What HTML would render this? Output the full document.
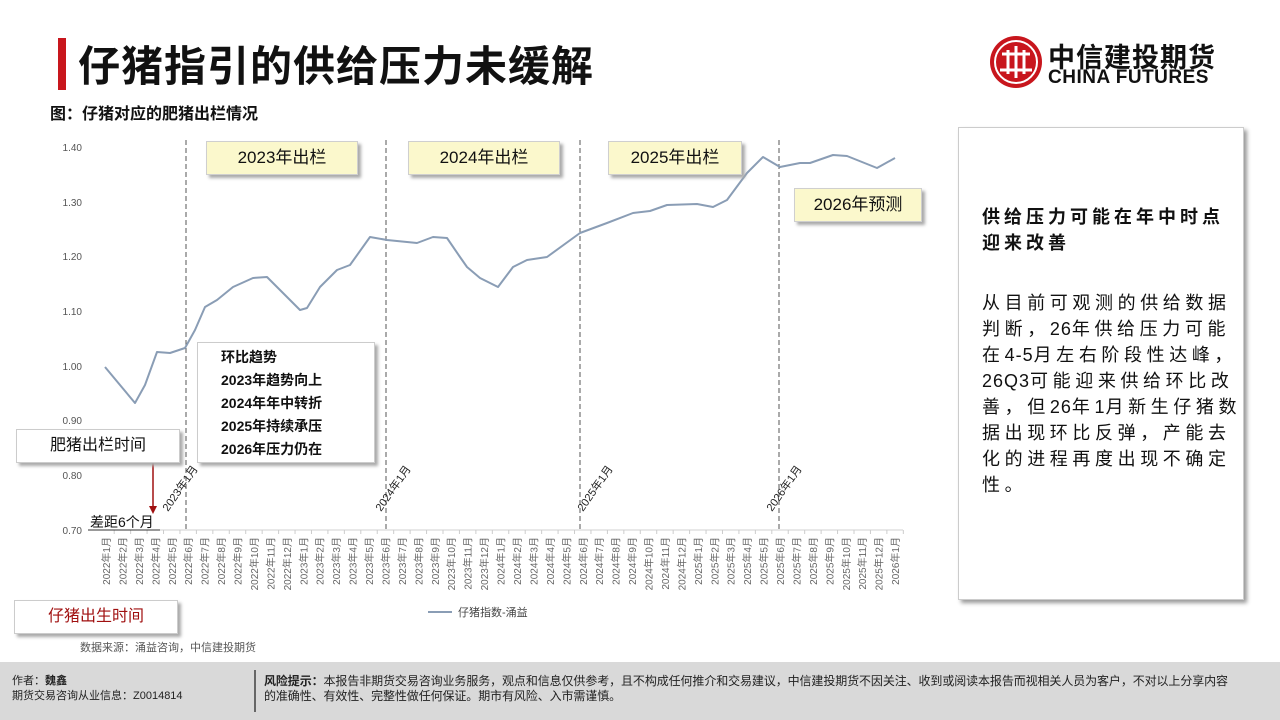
<!DOCTYPE html>
<html><head><meta charset="utf-8"><style>
body{margin:0;width:1280px;height:720px;position:relative;background:#fff;font-family:"Liberation Sans","Noto Sans CJK SC",sans-serif;overflow:hidden}
.a{position:absolute}
.ybox{position:absolute;background:#fbf8cc;border:1px solid #cfcfcf;box-shadow:3px 3px 3px #aaa;font-size:17px;color:#111;text-align:center}
</style></head><body>
<div class="a" style="left:58px;top:38px;width:8px;height:52px;background:#c8161d"></div>
<div class="a" style="left:78px;top:33px;font-size:42px;font-weight:bold;color:#111;letter-spacing:1px">仔猪指引的供给压力未缓解</div>
<div class="a" style="left:50px;top:100px;font-size:16px;font-weight:bold;color:#111">图：仔猪对应的肥猪出栏情况</div>
<svg class="a" style="left:988px;top:34px" width="56" height="56" viewBox="0 0 56 56"><circle cx="28" cy="28" r="26" fill="#c8161d"/><circle cx="28" cy="28" r="21" fill="none" stroke="#fff" stroke-width="2"/><path d="M14 20h28M12 36h32M20 16v24M28 12v32M36 16v24" stroke="#fff" stroke-width="3" fill="none"/></svg>
<div class="a" style="left:1048px;top:36px;font-size:27px;font-weight:bold;color:#111;letter-spacing:1px">中信建投期货</div>
<div class="a" style="left:1048px;top:67px;font-size:19px;font-weight:bold;color:#111;letter-spacing:0.5px">CHINA FUTURES</div>

<svg class="a" style="left:0;top:0" width="950" height="660">
<g font-size="10" fill="#555" text-anchor="end">
<text x="82" y="151">1.40</text><text x="82" y="206">1.30</text><text x="82" y="260">1.20</text><text x="82" y="315">1.10</text><text x="82" y="370">1.00</text><text x="82" y="424">0.90</text><text x="82" y="479">0.80</text><text x="82" y="534">0.70</text>
</g>
<line x1="90" y1="530" x2="903" y2="530" stroke="#d0d0d0"/>
<g stroke="#555" stroke-dasharray="5,3"><line x1="186" y1="140" x2="186" y2="530"/><line x1="386" y1="140" x2="386" y2="530"/><line x1="580" y1="140" x2="580" y2="530"/><line x1="779" y1="140" x2="779" y2="530"/></g>
<g id="xl" font-size="10" fill="#666" text-anchor="end"></g>
<polyline fill="none" stroke="#8a9db5" stroke-width="2" stroke-linejoin="round" points="105,367 120,385 135,403 145,385 157,352 170,353 185,348 195,330 205,307 217,300 233,287 253,278 267,277 285,295 300,310 307,308 320,287 337,270 350,265 370,237 387,240 417,243 433,237 447,238 460,257 467,267 480,278 498,287 513,267 527,260 547,257 580,233 607,223 633,213 650,211 667,205 697,204 713,207 727,200 747,173 763,157 780,167 800,163 810,163 833,155 847,156 877,168 895,158"/>
<g font-size="11" fill="#222"><text transform="translate(168,512) rotate(-55)">2023年1月</text><text transform="translate(381,512) rotate(-55)">2024年1月</text><text transform="translate(583,512) rotate(-55)">2025年1月</text><text transform="translate(772,512) rotate(-55)">2026年1月</text></g>
<line x1="153" y1="440" x2="153" y2="510" stroke="#a01010" stroke-width="1.5"/><path d="M149,444 L153,436 L157,444Z M149,506 L153,514 L157,506Z" fill="#a01010"/>
<line x1="88" y1="530" x2="160" y2="530" stroke="#333"/>
<line x1="428" y1="612" x2="452" y2="612" stroke="#8a9db5" stroke-width="2"/>
<text x="458" y="616" font-size="11" fill="#444">仔猪指数-涌益</text>
<text x="80" y="651" font-size="11" fill="#555">数据来源：涌益咨询，中信建投期货</text>
</svg>
<div class="a" style="left:90px;top:512px;font-size:14px;color:#111">差距6个月</div>
<div class="ybox" style="left:206px;top:141px;width:150px;height:32px;line-height:32px">2023年出栏</div>
<div class="ybox" style="left:408px;top:141px;width:150px;height:32px;line-height:32px">2024年出栏</div>
<div class="ybox" style="left:608px;top:141px;width:132px;height:32px;line-height:32px">2025年出栏</div>
<div class="ybox" style="left:794px;top:188px;width:126px;height:32px;line-height:32px">2026年预测</div>
<div class="a" style="left:197px;top:342px;width:178px;height:121px;border:1px solid #ccc;box-shadow:3px 3px 3px #aaa;background:#fff;font-size:14px;font-weight:bold;line-height:23px;padding-top:3px;box-sizing:border-box;padding-left:23px;color:#111">环比趋势<br>2023年趋势向上<br>2024年年中转折<br>2025年持续承压<br>2026年压力仍在</div>
<div class="a" style="left:16px;top:429px;width:162px;height:32px;line-height:32px;border:1px solid #ccc;box-shadow:3px 3px 3px #aaa;background:#fff;font-size:16px;text-align:center;color:#111">肥猪出栏时间</div>
<div class="a" style="left:14px;top:600px;width:162px;height:32px;line-height:32px;border:1px solid #ccc;box-shadow:3px 3px 3px #aaa;background:#fff;font-size:16px;text-align:center;color:#a01010">仔猪出生时间</div>

<div class="a" style="left:958px;top:127px;width:284px;height:471px;border:1px solid #ccc;box-shadow:3px 3px 4px #999;background:#fff"></div>
<div class="a" style="left:982px;top:204px;font-size:18px;font-weight:bold;line-height:26px;letter-spacing:4px;color:#111">供给压力可能在年中时点<br>迎来改善</div>
<div class="a" style="left:982px;top:290px;font-size:18px;line-height:26px;letter-spacing:4.6px;color:#111;white-space:nowrap">从目前可观测的供给数据<br>判断，<span style="letter-spacing:1px">26</span>年供给压力可能<br>在<span style="letter-spacing:1px">4-5</span>月左右阶段性达峰，<br><span style="letter-spacing:1px">26Q3</span>可能迎来供给环比改<br>善，但<span style="letter-spacing:1px">26</span>年<span style="letter-spacing:1px">1</span>月新生仔猪数<br>据出现环比反弹，产能去<br>化的进程再度出现不确定<br>性。</div>

<div class="a" style="left:0;top:662px;width:1280px;height:58px;background:#d9d9d9"></div>
<div class="a" style="left:254px;top:670px;width:2px;height:42px;background:#666"></div>
<div class="a" style="left:12px;top:674px;font-size:11px;color:#222;line-height:15px">作者：<b>魏鑫</b><br>期货交易咨询从业信息：Z0014814</div>
<div class="a" style="left:264px;top:674px;font-size:12px;color:#222;line-height:15px;white-space:nowrap;letter-spacing:-0.1px"><b>风险提示：</b>本报告非期货交易咨询业务服务，观点和信息仅供参考，且不构成任何推介和交易建议，中信建投期货不因关注、收到或阅读本报告而视相关人员为客户，不对以上分享内容<br>的准确性、有效性、完整性做任何保证。期市有风险、入市需谨慎。</div>
<script>
var g=document.getElementById('xl'),s='';
for(var i=0;i<49;i++){var y=2022+Math.floor(i/12),m=i%12+1,x=106+i*16.44;
s+='<line x1="'+(x+8.2)+'" y1="530" x2="'+(x+8.2)+'" y2="534" stroke="#ccc"/>';
s+='<text transform="translate('+(x+4)+',537) rotate(-90)">'+y+'年'+m+'月</text>';}
g.innerHTML=s;
</script>
</body></html>
